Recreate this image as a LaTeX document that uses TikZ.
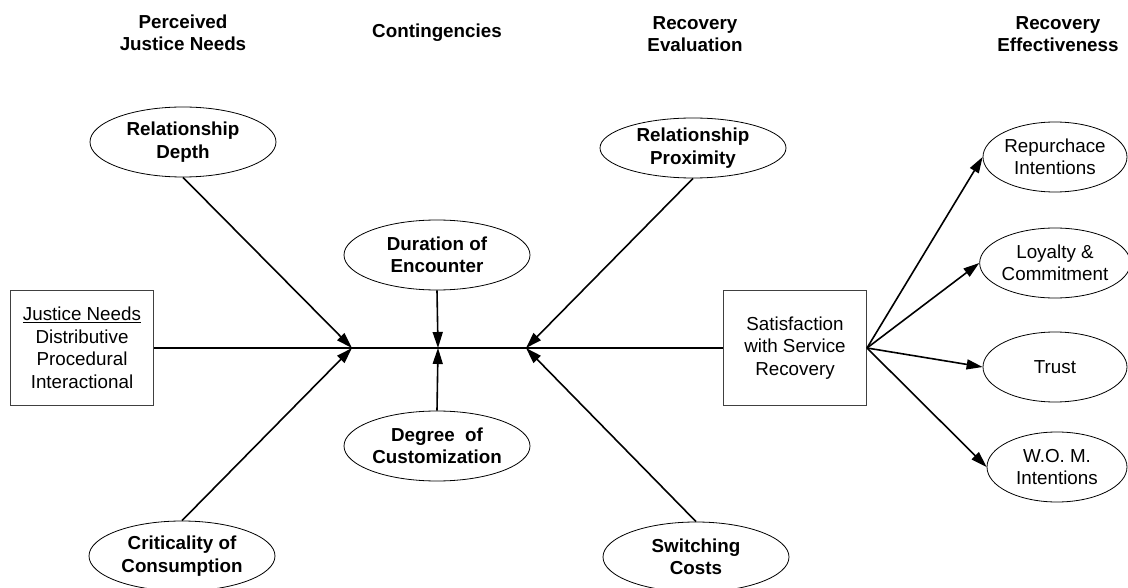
\documentclass[tikz,border=0pt]{standalone}
\usepackage{fontspec}
\setmainfont{Liberation Sans}
\usetikzlibrary{arrows.meta,shapes.geometric}
\begin{document}
\begin{tikzpicture}[x=1pt,y=-1pt,
  every node/.style={font=\fontsize{18.8pt}{22.5pt}\selectfont, align=center, inner sep=0pt},
  header/.style={font=\fontsize{18.8pt}{22.5pt}\selectfont\bfseries},
  oval/.style={draw, ellipse, line width=0.8pt, minimum width=186pt, minimum height=70pt},
  boldoval/.style={oval, font=\fontsize{18.8pt}{22.5pt}\selectfont\bfseries},
  outoval/.style={oval, minimum width=144pt},
  panel/.style={draw=black!75, line width=1pt, minimum width=143pt, minimum height=115pt},
  link/.style={line width=1.6pt},
  arr/.style={link, -{Triangle[length=16pt,width=10pt]}}
]
\useasboundingbox (0,0) rectangle (1128,588);

% column headings
\node[header] (h1) at (183,33) {Perceived\\Justice Needs};
\node[header] (h2) at (437,33) {Contingencies};
\node[header] (h3) at (695,34) {Recovery\\Evaluation};
\node[header] (h4) at (1058,34) {Recovery\\Effectiveness};

% boxes
\node[panel] (jn) at (82,348) {\underline{Justice Needs}\\Distributive\\Procedural\\Interactional};
\node[panel] (sat) at (795,348) {Satisfaction\\with Service\\Recovery};

% moderators
\node[boldoval] (depth) at (183,142) {Relationship\\Depth};
\node[boldoval] (crit) at (182,556) {Criticality of\\Consumption};
\node[boldoval] (dur) at (437,255) {Duration of\\Encounter};
\node[boldoval] (deg) at (437,446) {Degree\ \ of\\Customization};
\node[boldoval, minimum height=60pt] (prox) at (693,148) {Relationship\\Proximity};
\node[boldoval] (sw) at (696,557) {Switching\\Costs};

% outcomes
\node[outoval] (rep) at (1055,157) {Repurchace\\Intentions};
\node[outoval] (loy) at (1055,263) {Loyalty \&\\Commitment};
\node[outoval] (tru) at (1055,367) {Trust};
\node[outoval, minimum width=140pt] (wom) at (1057,467) {W.O.\ M.\\Intentions};

% junctions on the main path
\coordinate (j1) at (352,348);
\coordinate (j2) at (438,348);
\coordinate (j3) at (526,348);

\draw[link] (jn.east) -- (sat.west);

\draw[arr] (depth.south) -- (j1);
\draw[arr] (crit.north) -- (j1);
\draw[arr] (dur.south) -- (j2);
\draw[arr] (deg.north) -- (j2);
\draw[arr] (prox.south) -- (j3);
\draw[arr] (sw.north) -- (j3);

\draw[arr] (sat.east) -- (rep.west);
\draw[arr] (sat.east) -- (loy.west);
\draw[arr] (sat.east) -- (tru.west);
\draw[arr] (sat.east) -- (wom.west);
\end{tikzpicture}
\end{document}
